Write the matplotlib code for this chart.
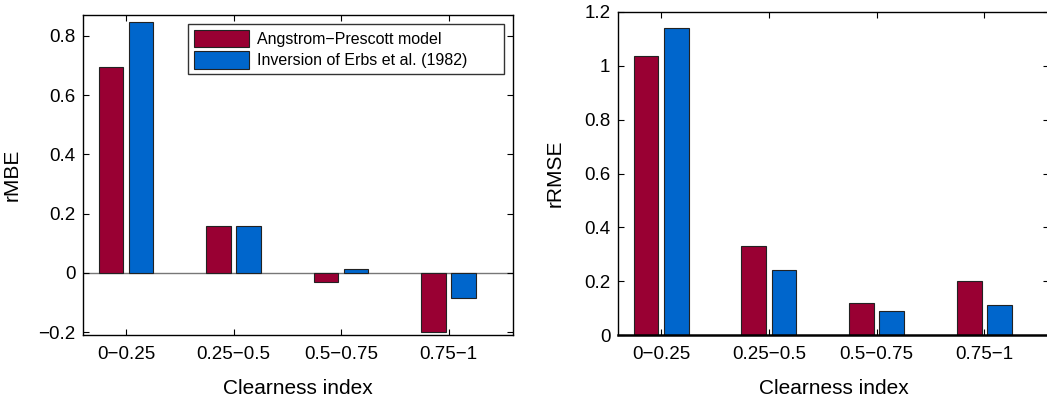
import numpy as np
import matplotlib.pyplot as plt

plt.rcParams['font.family'] = ['Liberation Sans', 'DejaVu Sans']

categories = ['0\u22120.25', '0.25\u22120.5', '0.5\u22120.75', '0.75\u22121']
series_names = ['Angstrom\u2212Prescott model', 'Inversion of Erbs et al. (1982)']
rmbe_ap = [0.695, 0.160, -0.030, -0.200]
rmbe_erbs = [0.848, 0.157, 0.012, -0.085]
rrmse_ap = [1.035, 0.330, 0.120, 0.202]
rrmse_erbs = [1.140, 0.242, 0.090, 0.112]

c_ap = '#990033'
c_erbs = '#0066cc'

fig = plt.figure(figsize=(10.47, 3.99), dpi=100)
ax1 = fig.add_axes([0.0793, 0.160, 0.4107, 0.802])
ax2 = fig.add_axes([0.5903, 0.160, 0.4116, 0.810])

x = np.arange(1, len(categories) + 1)
w = 0.23
off = 0.14


def style(ax):
    ax.set_xticks(x)
    ax.set_xticklabels(categories)
    ax.tick_params(direction='in', top=True, right=True, labelsize=13.5, length=4)
    ax.tick_params(axis='x', pad=8)
    ax.tick_params(axis='y', pad=5.5)
    for s in ax.spines.values():
        s.set_linewidth(1.0)
    ax.set_xlabel('Clearness index', fontsize=15, labelpad=11)


ax1.bar(x - off, rmbe_ap, w, color=c_ap, edgecolor='#222222', linewidth=0.8,
        label=series_names[0], zorder=2)
ax1.bar(x + off, rmbe_erbs, w, color=c_erbs, edgecolor='#222222', linewidth=0.8,
        label=series_names[1], zorder=2)
ax1.axhline(0, color='#777777', linewidth=1.0, zorder=1)
ax1.set_xlim(0.6, 4.6)
ax1.set_ylim(-0.21, 0.87)
ax1.set_yticks([-0.2, 0, 0.2, 0.4, 0.6, 0.8])
ax1.set_yticklabels(['\u22120.2', '0', '0.2', '0.4', '0.6', '0.8'])
ax1.set_ylabel('rMBE', fontsize=15)
ax1.yaxis.set_label_coords(-0.142, 0.5)
style(ax1)
leg = ax1.legend(loc='upper left', bbox_to_anchor=(0.244, 0.81, 0.735, 0.162),
                 mode='expand', fontsize=11.5,
                 frameon=True, fancybox=False, edgecolor='black', handlelength=3.5,
                 handleheight=1.3, borderpad=0.35, labelspacing=0.25,
                 handletextpad=0.45, borderaxespad=0.0)
leg.get_frame().set_linewidth(1.0)

ax2.bar(x - off, rrmse_ap, w, color=c_ap, edgecolor='#222222', linewidth=0.8, zorder=2)
ax2.bar(x + off, rrmse_erbs, w, color=c_erbs, edgecolor='#222222', linewidth=0.8, zorder=2)
ax2.set_xlim(0.6, 4.6)
ax2.set_ylim(0, 1.2)
ax2.set_yticks([0, 0.2, 0.4, 0.6, 0.8, 1.0, 1.2])
ax2.set_yticklabels(['0', '0.2', '0.4', '0.6', '0.8', '1', '1.2'])
ax2.set_ylabel('rRMSE', fontsize=15)
ax2.yaxis.set_label_coords(-0.123, 0.5)
style(ax2)
ax2.spines['bottom'].set_linewidth(1.8)

fig.savefig('out.png', dpi=100)
